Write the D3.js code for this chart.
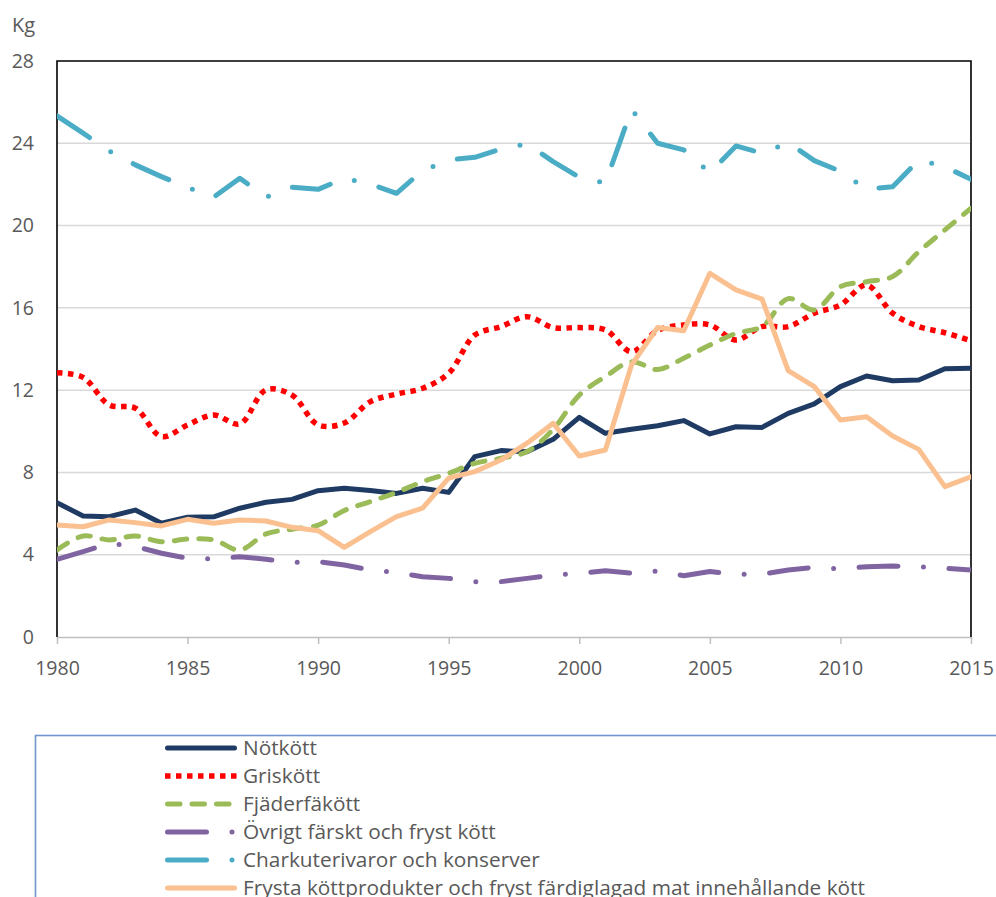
<!DOCTYPE html>
<html>
<head>
<meta charset="utf-8">
<script src="https://cdn.jsdelivr.net/npm/d3@7"></script>
<style>
  body { margin: 0; background: #fff; }
  svg text { font-family: "Open Sans", "Noto Sans", sans-serif; fill: #595959; }
</style>
</head>
<body>
<svg id="chart" width="996" height="897"></svg>
<script>
'use strict';

// years on the x axis
const years = d3.range(1980, 2016);
const yTicks = [0, 4, 8, 12, 16, 20, 24, 28];
const xTicks = [1980, 1985, 1990, 1995, 2000, 2005, 2010, 2015];

// kg per person
const notkott = [6.53, 5.88, 5.85, 6.17, 5.53, 5.82, 5.84, 6.26, 6.55, 6.69, 7.11, 7.23,
	7.12, 6.98, 7.23, 7.03, 8.77, 9.06, 9.01, 9.61, 10.68, 9.90, 10.10, 10.27,
	10.52, 9.87, 10.22, 10.19, 10.87, 11.33, 12.17, 12.69, 12.46, 12.49, 13.04, 13.06];
const griskott = [12.85, 12.62, 11.28, 11.12, 9.74, 10.31, 10.79, 10.36, 12.01, 11.76, 10.31, 10.40,
	11.44, 11.81, 12.09, 12.82, 14.68, 15.09, 15.57, 15.04, 15.04, 14.93, 13.87, 14.90,
	15.17, 15.17, 14.44, 15.09, 15.09, 15.74, 16.14, 17.11, 15.74, 15.09, 14.79, 14.40];
const fjaderfa = [4.23, 4.91, 4.72, 4.91, 4.63, 4.76, 4.72, 4.23, 5.01, 5.24, 5.44, 6.15,
	6.58, 7.03, 7.55, 7.96, 8.44, 8.69, 9.01, 10.10, 11.76, 12.66, 13.38, 13.00,
	13.55, 14.19, 14.76, 15.09, 16.45, 15.90, 17.03, 17.27, 17.52, 18.73, 19.79, 20.84];
const ovrigt = [3.78, 4.15, 4.55, 4.40, 4.07, 3.83, 3.79, 3.90, 3.78, 3.63, 3.66, 3.50,
	3.26, 3.13, 2.93, 2.85, 2.69, 2.69, 2.85, 3.01, 3.10, 3.22, 3.10, 3.21,
	2.98, 3.18, 3.05, 3.05, 3.26, 3.39, 3.31, 3.42, 3.45, 3.42, 3.34, 3.26];
const charkuteri = [25.33, 24.49, 23.63, 22.95, 22.38, 21.86, 21.38, 22.30, 21.38, 21.86, 21.76, 22.30,
	22.02, 21.57, 22.67, 23.19, 23.32, 23.72, 23.97, 23.11, 22.35, 22.06, 25.65, 24.00,
	23.68, 22.57, 23.87, 23.52, 24.03, 23.16, 22.64, 21.76, 21.89, 23.19, 22.86, 22.25];
const frysta = [5.44, 5.36, 5.69, 5.56, 5.40, 5.72, 5.53, 5.69, 5.64, 5.33, 5.17, 4.36,
	5.12, 5.85, 6.26, 7.72, 8.04, 8.60, 9.42, 10.39, 8.80, 9.09, 13.22, 15.05,
	14.89, 17.68, 16.87, 16.42, 12.95, 12.17, 10.55, 10.71, 9.77, 9.12, 7.31, 7.79];

const seriesNames = [
	'Nötkött',
	'Griskött',
	'Fjäderfäkött',
	'Övrigt färskt och fryst kött',
	'Charkuterivaror och konserver',
	'Frysta köttprodukter och fryst färdiglagad mat innehållande kött',
];

const series = [
	{ name: seriesNames[0], values: notkott, color: '#1F3B63', width: 5, dash: null, cap: 'round', smooth: false },
	{ name: seriesNames[1], values: griskott, color: '#FF0000', width: 5.5, dash: '5.5,5.5', cap: 'butt', smooth: true },
	{ name: seriesNames[2], values: fjaderfa, color: '#9BBB59', width: 5, dash: '12.5,12', cap: 'round', smooth: true },
	{ name: seriesNames[3], values: ovrigt, color: '#8064A2', width: 5, dash: '39,25.5,0,25.5', cap: 'round', smooth: false },
	{ name: seriesNames[4], values: charkuteri, color: '#4BACC6', width: 5, dash: '39,25.5,0,25.5', cap: 'round', smooth: false },
	{ name: seriesNames[5], values: frysta, color: '#FAC090', width: 5, dash: null, cap: 'round', smooth: false },
];

const margin = { left: 57, right: 25, top: 61, bottom: 260 };
const width = 996, height = 897;
const axisFont = '19.5px';

const svg = d3.select('#chart');

const x = d3.scaleLinear().domain([1980, 2015]).range([margin.left, width - margin.right]);
const y = d3.scaleLinear().domain([0, 28]).range([637, margin.top]);

// gridlines
svg.append('g')
	.selectAll('line')
	.data(yTicks.filter(d => d > 0 && d < 28))
	.join('line')
	.attr('x1', x(1980)).attr('x2', x(2015))
	.attr('y1', d => y(d)).attr('y2', d => y(d))
	.attr('stroke', '#D9D9D9')
	.attr('stroke-width', 1.5);

// x axis (grey, ticks below)
const xAxis = d3.axisBottom(x).tickValues(xTicks).tickFormat(d3.format('d')).tickSize(7).tickSizeOuter(0);
const gx = svg.append('g')
	.attr('transform', `translate(0,${y(0)})`)
	.call(xAxis);
gx.select('.domain').attr('stroke', '#BFBFBF').attr('stroke-width', 1.5);
gx.selectAll('.tick line').attr('stroke', '#BFBFBF').attr('stroke-width', 1.5);
gx.selectAll('.tick text')
	.attr('y', 31)
	.attr('dy', '0.35em')
	.style('font-size', axisFont);

// y axis labels
const yAxis = d3.axisLeft(y).tickValues(yTicks).tickSize(0).tickPadding(23);
const gy = svg.append('g')
	.attr('transform', `translate(${margin.left},0)`)
	.call(yAxis);
gy.select('.domain').remove();
gy.selectAll('.tick text').style('font-size', axisFont);

// plot frame: black top, left, right
svg.append('path')
	.attr('d', `M${x(1980)},${y(0)}V${y(28)}H${x(2015)}V${y(0)}`)
	.attr('fill', 'none')
	.attr('stroke', '#000')
	.attr('stroke-width', 1.6);

svg.append('text')
	.attr('x', 12)
	.attr('y', 32)
	.style('font-size', '20px')
	.text('Kg');

// lines
svg.append('clipPath').attr('id', 'plotclip')
	.append('rect')
	.attr('x', x(1980)).attr('y', y(28))
	.attr('width', x(2015) - x(1980)).attr('height', y(0) - y(28));

const lineStraight = d3.line()
	.x((d, i) => x(years[i]))
	.y(d => y(d));
const lineSmooth = d3.line()
	.curve(d3.curveCatmullRom.alpha(0.5))
	.x((d, i) => x(years[i]))
	.y(d => y(d));

const gLines = svg.append('g').attr('clip-path', 'url(#plotclip)');
gLines.selectAll('path')
	.data(series)
	.join('path')
	.attr('d', s => (s.smooth ? lineSmooth : lineStraight)(s.values))
	.attr('fill', 'none')
	.attr('stroke', s => s.color)
	.attr('stroke-width', s => s.width)
	.attr('stroke-linecap', s => s.cap)
	.attr('stroke-linejoin', 'round')
	.attr('stroke-dasharray', s => s.dash);

// legend box (runs off the right and bottom edges, as in the original)
svg.append('rect')
	.attr('x', 35.5)
	.attr('y', 735.5)
	.attr('width', 1000)
	.attr('height', 300)
	.attr('fill', 'none')
	.attr('stroke', '#6F95CC')
	.attr('stroke-width', 1.6);

const legend = svg.append('g')
	.selectAll('g')
	.data(series)
	.join('g')
	.attr('transform', (d, i) => `translate(0,${748 + i * 28})`);

legend.append('line')
	.attr('x1', s => s.cap === 'round' ? 167.5 : 165)
	.attr('x2', s => s.cap === 'round' ? 234.5 : 237)
	.attr('y1', 0).attr('y2', 0)
	.attr('stroke', s => s.color)
	.attr('stroke-width', s => s.width)
	.attr('stroke-linecap', s => s.cap)
	.attr('stroke-dasharray', s => s.dash);

legend.append('text')
	.attr('x', 243)
	.attr('y', 0)
	.attr('dy', '0.35em')
	.style('font-size', '20.8px')
	.text(s => s.name);
</script>
</body>
</html>
